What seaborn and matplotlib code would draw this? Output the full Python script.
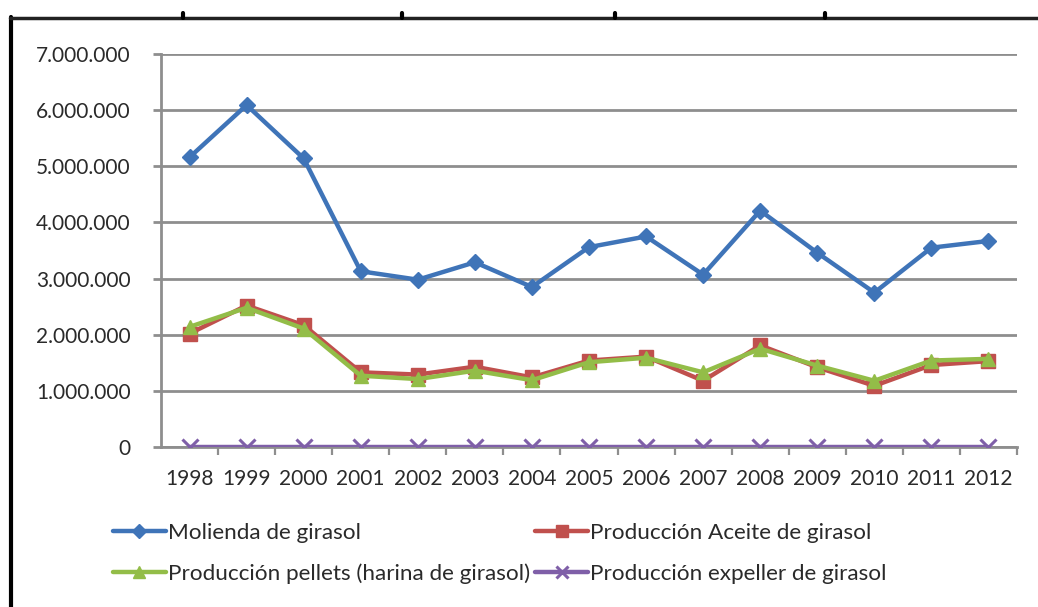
import matplotlib
matplotlib.use("Agg")
import matplotlib.pyplot as plt
from matplotlib.lines import Line2D
from matplotlib.ticker import FuncFormatter, FixedLocator
import seaborn as sns
import pandas as pd

years = ["1998", "1999", "2000", "2001", "2002", "2003", "2004", "2005",
         "2006", "2007", "2008", "2009", "2010", "2011", "2012"]

molienda = [5160000, 6090000, 5140000, 3130000, 2980000, 3290000, 2850000, 3560000,
            3750000, 3070000, 4210000, 3460000, 2750000, 3550000, 3670000]
aceite = [2020000, 2520000, 2170000, 1330000, 1290000, 1430000, 1240000, 1540000,
          1610000, 1180000, 1810000, 1420000, 1090000, 1460000, 1530000]
pellets = [2140000, 2480000, 2110000, 1270000, 1210000, 1360000, 1190000, 1510000,
           1590000, 1330000, 1750000, 1450000, 1180000, 1540000, 1570000]
expeller = [0, 0, 0, 0, 0, 0, 0, 0, 0, 0, 0, 0, 0, 0, 0]

series_names = ["Molienda de girasol", "Producción Aceite de girasol",
                "Producción pellets (harina de girasol)", "Producción expeller de girasol"]
series_values = [molienda, aceite, pellets, expeller]
colors = ["#3f74b8", "#c0504d", "#93bd48", "#7f5fa8"]
markers = ["D", "s", "^", "x"]
msizes = [8.5, 9.5, 10.5, 11]

sns.set_theme(style="white")
plt.rcParams["font.family"] = ["Lato", "DejaVu Sans"]

FS = 15
LEG_FS = 16.2
TXT = "#2a2a2a"

fig = plt.figure(figsize=(10.38, 6.07), dpi=100)
ax = fig.add_axes([161 / 1038, 1 - 447 / 607, (1017 - 161) / 1038, (447 - 54) / 607])

pos = list(range(len(years)))
for name, vals, c, m, ms in zip(series_names, series_values, colors, markers, msizes):
    df = pd.DataFrame({"pos": pos, "valor": vals})
    sns.lineplot(data=df, x="pos", y="valor", ax=ax, color=c, linewidth=3.2,
                 marker=m, markersize=ms, markeredgecolor=c,
                 markeredgewidth=2.2 if m == "x" else 1.0, label=name, zorder=3)

ax.set_xlim(-0.5, len(years) - 0.5)
ax.set_ylim(0, 7000000)
ax.set_xlabel("")
ax.set_ylabel("")

grid_color = "#8e8e8e"
ax.yaxis.set_major_locator(FixedLocator([i * 1000000 for i in range(8)]))
ax.yaxis.set_major_formatter(FuncFormatter(lambda v, p: f"{int(v):,}".replace(",", ".")))
ax.grid(axis="y", color=grid_color, linewidth=2.0, zorder=0)
ax.grid(axis="x", visible=False)

ax.set_xticks(pos)
ax.set_xticklabels(years)
ax.set_xticks([p + 0.5 for p in pos], minor=True)

for s in ["top", "right"]:
    ax.spines[s].set_visible(False)
for s in ["left", "bottom"]:
    ax.spines[s].set_color(grid_color)
    ax.spines[s].set_linewidth(2.0)

ax.tick_params(axis="y", which="major", left=True, length=6, width=2.0, color=grid_color,
               pad=16, labelsize=FS, labelcolor=TXT)
ax.tick_params(axis="x", which="major", bottom=False, pad=10, labelsize=FS,
               labelcolor=TXT)
ax.tick_params(axis="x", which="minor", bottom=True, length=6, width=1.6,
               color=grid_color)

# legend in two columns beneath the axes
handles, labels = ax.get_legend_handles_labels()
if ax.legend_:
    ax.legend_.remove()
order = [0, 2, 1, 3]
leg = fig.legend([handles[i] for i in order], [labels[i] for i in order],
                 ncol=2, loc="upper left", bbox_to_anchor=(104 / 1038, 1 - 514 / 607),
                 frameon=False, fontsize=LEG_FS, handlelength=2.35, handletextpad=0.08,
                 columnspacing=0.25, labelspacing=0.92, borderaxespad=0,
                 markerscale=0.85)
for t in leg.get_texts():
    t.set_color(TXT)

# page border: left and top rules with small marks
fig.add_artist(Line2D([11 / 1038, 11 / 1038], [0, 1 - 17 / 607], color="black",
                      linewidth=3, transform=fig.transFigure))
fig.add_artist(Line2D([10 / 1038, 1], [1 - 18 / 607, 1 - 18 / 607], color="#222222",
                      linewidth=2.5, transform=fig.transFigure))
for xm in [183, 402, 615, 825]:
    fig.add_artist(Line2D([xm / 1038, xm / 1038], [1 - 18 / 607, 1 - 13 / 607],
                          color="black", linewidth=3, transform=fig.transFigure))

fig.savefig("out.png", dpi=100, facecolor="white")
